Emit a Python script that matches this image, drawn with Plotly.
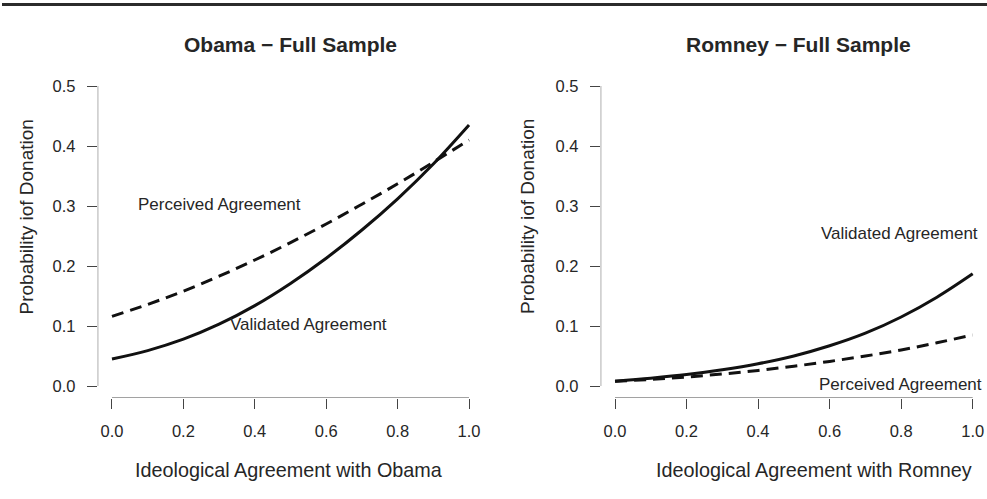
import plotly.graph_objects as go

# Predicted probability of donating across ideological agreement
agreement = [0.0, 0.1, 0.2, 0.3, 0.4, 0.5, 0.6, 0.7, 0.8, 0.9, 1.0]
obama_validated = [0.045, 0.059, 0.078, 0.103, 0.134, 0.171, 0.213, 0.260, 0.312, 0.370, 0.435]
obama_perceived = [0.116, 0.136, 0.158, 0.183, 0.210, 0.239, 0.270, 0.303, 0.337, 0.373, 0.410]
romney_validated = [0.008, 0.013, 0.019, 0.027, 0.037, 0.050, 0.067, 0.088, 0.115, 0.148, 0.187]
romney_perceived = [0.008, 0.011, 0.015, 0.020, 0.026, 0.033, 0.041, 0.050, 0.060, 0.072, 0.085]

x_ticks = [0.0, 0.2, 0.4, 0.6, 0.8, 1.0]
y_ticks = [0.0, 0.1, 0.2, 0.3, 0.4, 0.5]
panel_titles = ["Obama \u2212 Full Sample", "Romney \u2212 Full Sample"]
x_titles = ["Ideological Agreement with Obama", "Ideological Agreement with Romney"]
y_title = "Probability iof Donation"

W, H = 987, 499
FONT = "Liberation Sans, Arial, Helvetica, sans-serif"
INK = "#262626"
AXIS = "#444444"
X_RANGE = [-0.04, 1.04]
Y_RANGE = [-0.02, 0.52]


def px_x(p):
    return p / W


def px_y(p):
    return 1 - p / H


fig = go.Figure()

panels = [
    ("x", "y", obama_validated, obama_perceived),
    ("x2", "y2", romney_validated, romney_perceived),
]
for xa, ya, validated, perceived in panels:
    fig.add_trace(go.Scatter(
        x=agreement, y=validated, xaxis=xa, yaxis=ya, mode="lines",
        line=dict(color="#111111", width=3, shape="spline", smoothing=1.0),
        showlegend=False, hoverinfo="skip"))
    fig.add_trace(go.Scatter(
        x=agreement, y=perceived, xaxis=xa, yaxis=ya, mode="lines",
        line=dict(color="#111111", width=3, dash="12px,7px", shape="spline", smoothing=1.0),
        showlegend=False, hoverinfo="skip"))

y_dom = [px_y(398), px_y(74)]
left_dom = [px_x(97.7), px_x(483.3)]
right_dom = [px_x(600.7), 1.0]

tickfont = dict(family=FONT, size=16.5, color=INK)
xaxis_common = dict(range=X_RANGE, tickvals=x_ticks, ticktext=[f"{v:.1f}" for v in x_ticks],
                    ticks="outside", ticklen=10, tickwidth=1, tickcolor=AXIS,
                    showline=False, showgrid=False, zeroline=False,
                    tickfont=tickfont, ticklabelstandoff=8, fixedrange=True)
yaxis_common = dict(range=Y_RANGE, tickvals=y_ticks, ticktext=[f"{v:.1f}" for v in y_ticks],
                    ticks="outside", ticklen=10, tickwidth=1, tickcolor=AXIS,
                    showline=False, showgrid=False, zeroline=False,
                    tickfont=tickfont, ticklabelstandoff=8, fixedrange=True, domain=y_dom)

fig.update_layout(
    width=W, height=H,
    margin=dict(l=0, r=0, t=0, b=0),
    paper_bgcolor="white", plot_bgcolor="white",
    font=dict(family=FONT, color=INK),
    xaxis=dict(domain=left_dom, anchor="y", **xaxis_common),
    yaxis=dict(anchor="x", **yaxis_common),
    xaxis2=dict(domain=right_dom, anchor="y2", **xaxis_common),
    yaxis2=dict(anchor="x2", **yaxis_common),
)

# Axis lines span only the first to last tick
for xr, yr in [("x", "y"), ("x2", "y2")]:
    fig.add_shape(type="line", xref=xr, yref=yr, x0=x_ticks[0], x1=x_ticks[-1],
                  y0=Y_RANGE[0], y1=Y_RANGE[0], line=dict(color=AXIS, width=1))
    fig.add_shape(type="line", xref=xr, yref=yr, x0=X_RANGE[0], x1=X_RANGE[0],
                  y0=y_ticks[0], y1=y_ticks[-1], line=dict(color=AXIS, width=1))

# Rule across the top of the page
fig.add_shape(type="line", xref="paper", yref="paper", x0=px_x(2), x1=1.0,
              y0=px_y(4.5), y1=px_y(4.5), line=dict(color="#2b2b2b", width=3))

annotations = []
# Panel titles
for cx, text in [(290, panel_titles[0]), (798, panel_titles[1])]:
    annotations.append(dict(x=px_x(cx), y=px_y(45), xref="paper", yref="paper",
                            text=f"<b>{text}</b>", showarrow=False,
                            font=dict(family=FONT, size=21, color=INK),
                            xanchor="center", yanchor="middle"))
# Axis titles
for cx, text in [(288, x_titles[0]), (814, x_titles[1])]:
    annotations.append(dict(x=px_x(cx), y=px_y(470), xref="paper", yref="paper",
                            text=text, showarrow=False,
                            font=dict(family=FONT, size=19.8, color=INK),
                            xanchor="center", yanchor="middle"))
for cx in [25.5, 527]:
    annotations.append(dict(x=px_x(cx), y=px_y(217), xref="paper", yref="paper",
                            text=y_title, showarrow=False, textangle=-90,
                            font=dict(family=FONT, size=19, color=INK),
                            xanchor="center", yanchor="middle"))
# Curve labels
curve_labels = [
    ("x", "y", 0.30, 0.302, "Perceived Agreement"),
    ("x", "y", 0.55, 0.102, "Validated Agreement"),
    ("x2", "y2", 0.796, 0.2545, "Validated Agreement"),
    ("x2", "y2", 0.798, 0.003, "Perceived Agreement"),
]
for xr, yr, lx, ly, text in curve_labels:
    annotations.append(dict(x=lx, y=ly, xref=xr, yref=yr, text=text, showarrow=False,
                            font=dict(family=FONT, size=17, color=INK),
                            xanchor="center", yanchor="middle"))
fig.update_layout(annotations=annotations)

fig.write_html("out.html")
